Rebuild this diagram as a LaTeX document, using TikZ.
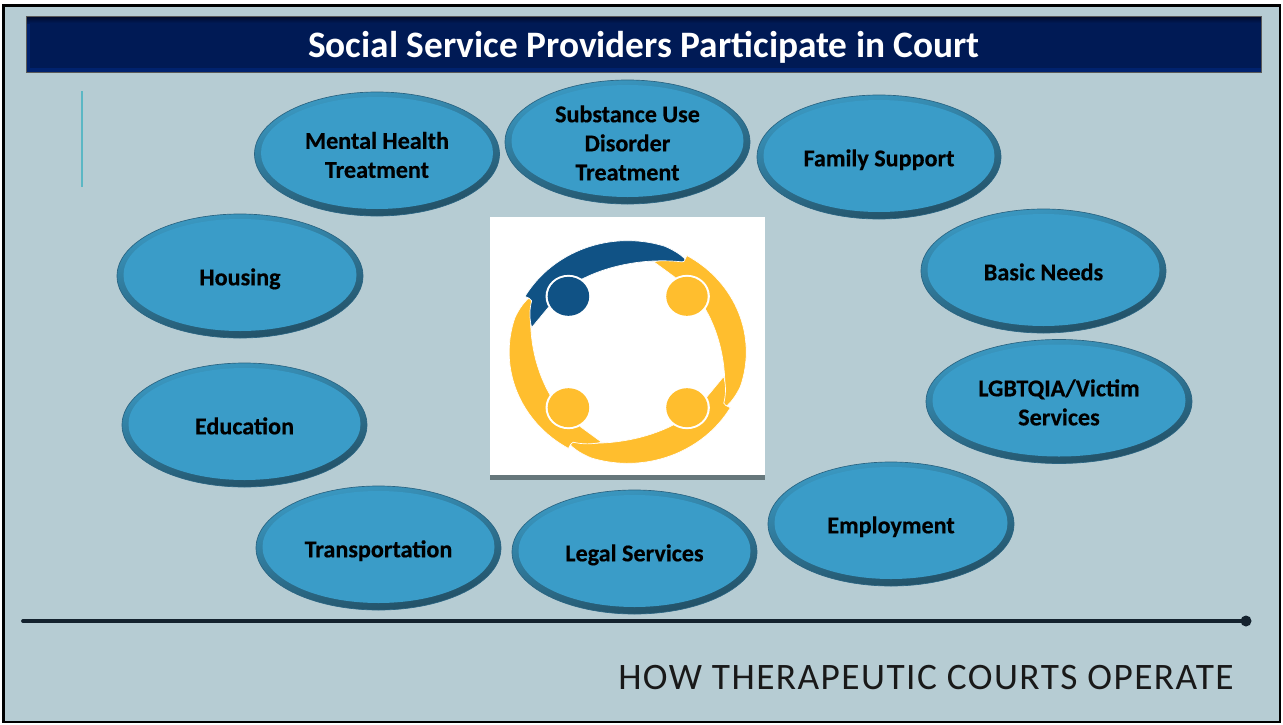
\documentclass[tikz,border=0pt]{standalone}
\usepackage{fontspec}
\setmainfont{Carlito}
\definecolor{pagebg}{HTML}{B6CCD3}
\definecolor{bandnavy}{HTML}{001A55}
\definecolor{bandtop}{HTML}{000A2A}
\definecolor{bandedge}{HTML}{00226E}
\definecolor{ovalfill}{HTML}{3A9CC8}
\definecolor{ovallight}{HTML}{3B9AC4}
\definecolor{ovalmid}{HTML}{2E7C9F}
\definecolor{ovaldark}{HTML}{224E63}
\definecolor{ovalline}{HTML}{2A6482}
\definecolor{logoblue}{HTML}{105285}
\definecolor{logoyellow}{HTML}{FFBE2E}
\definecolor{tealline}{HTML}{5BB7C4}
\definecolor{inkline}{HTML}{14222E}
\definecolor{logobar}{HTML}{66777B}
\tikzset{
  px/.style={x=0.75pt,y=-0.75pt},
  ovaltext/.style={font=\fontsize{18.1pt}{21.8pt}\selectfont\bfseries\addfontfeature{FakeBold=0.4},align=center,text=black,inner sep=0pt},
  logoarm/.style={draw=white,line width=0.5pt,line join=round},
}
\newcommand{\ovalshape}[5]{% name, x, y, rx, text
  \path[top color=ovallight,middle color=ovalmid,bottom color=ovaldark,shading angle=12,draw=ovalline,line width=0.5pt]
     (#2,#3) ellipse [x radius=#4,y radius=62];
  \fill[ovalfill] (#2,#3-1) ellipse [x radius=#4-6.5,y radius=56];
  \node[ovaltext] (#1) at (#2,#3+3.5) {#5};
}
\begin{document}
\begin{tikzpicture}[px]
\useasboundingbox (0,0) rectangle (1283,725);
\fill[white] (0,0) rectangle (1283,725);
\draw[black,line width=2.2pt,fill=pagebg] (3.5,5.5) rectangle (1280,722);
% title band
\fill[bandedge] (26,16) rectangle (1261,72);
\shade[top color=bandtop,bottom color=bandnavy] (26,16) rectangle (1261,23);
\fill[bandnavy] (30,23) rectangle (1261,68);
\draw[gray!70!black,line width=0.5pt] (26,16) rectangle (1261,72);
\node[font=\fontsize{28pt}{33pt}\selectfont\bfseries,text=white,inner sep=0pt] (title) at (644,49) {Social Service Providers Participate in Court\strut};
% teal line
\coordinate (tealtop) at (82,91);
\coordinate (tealbot) at (82,187);
\draw[tealline,line width=1.2pt] (tealtop) -- (tealbot);
% ovals
\ovalshape{mental}{377}{154}{122.5}{Mental Health\strut\\Treatment\strut}
\ovalshape{substance}{627.5}{142}{122.5}{Substance Use\strut\\Disorder\strut\\Treatment\strut}
\ovalshape{family}{879}{157}{122}{Family Support\strut}
\ovalshape{basic}{1043.5}{271}{122.5}{Basic Needs\strut}
\ovalshape{lgbt}{1059}{401.5}{133}{LGBTQIA/Victim\strut\\Services\strut}
\ovalshape{employ}{891}{524}{123}{Employment\strut}
\ovalshape{legal}{634.5}{552}{122.5}{Legal Services\strut}
\ovalshape{transport}{378.5}{548}{122.5}{Transportation\strut}
\ovalshape{education}{244.5}{425}{122.5}{Education\strut}
\ovalshape{housing}{240}{276}{123}{Housing\strut}
% logo
\fill[white] (490,217) rectangle (765,475);
\fill[logobar] (490,475) rectangle (765,480);
\foreach \ang/\col in {-90/logoyellow,-180/logoyellow,-270/logoyellow,0/logoblue}{
 \begin{scope}[shift={(627.7,352)},x=1pt,y=1pt,xscale=0.889,yscale=0.835,rotate=\ang]
  \filldraw[fill=\col,logoarm] (150:100) arc[start angle=150,end angle=72,radius=100]
     .. controls (38,92) and (44,88) .. (47.5,84.5)
     .. controls (49,82.5) and (48,81) .. (45.6,81)
     .. controls (20,84) and (-12,80) .. (-38.9,65.3)
     -- (-50,50) -- (-67,40) -- (-81,22)
     .. controls (-83,30) and (-83,38) .. (-81,46)
     .. controls (-81.5,47.5) and (-84,49) .. cycle;
  \fill[white] (-50,50) circle[radius=19.3];
  \fill[\col] (-50,50) circle[radius=17.5];
 \end{scope}
}
% bottom rule
\coordinate (rulestart) at (23,621);
\coordinate (ruleend) at (1246,621);
\draw[inkline,line width=2.8pt,line cap=round] (rulestart) -- (ruleend);
\fill[inkline] (ruleend) circle[radius=5.5];
\node[font=\fontsize{28pt}{30pt}\selectfont\addfontfeature{LetterSpace=3.9},text=black!90,inner sep=0pt,anchor=east] (footer) at (1234,678) {HOW THERAPEUTIC COURTS OPERATE};
\end{tikzpicture}
\end{document}
